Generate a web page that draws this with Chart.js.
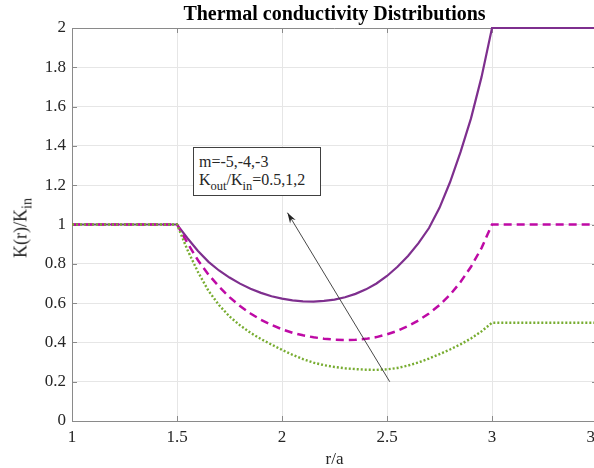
<!DOCTYPE html>
<html>
<head>
<meta charset="utf-8">
<script src="https://cdn.jsdelivr.net/npm/chart.js@4.4.1/dist/chart.umd.min.js"></script>
<style>
  html, body { margin: 0; padding: 0; overflow: hidden; background: #fff; }
  #wrap { position: relative; width: 620px; height: 468px; }
  #ylab, #note { position: absolute; font-family: "Liberation Serif", serif; color: #262626; white-space: nowrap; }
  #ylab { font-size: 18px; left: 21px; top: 228px; transform: translate(-50%, -50%) rotate(-90deg); }
  #note { font-size: 16px; line-height: 18px; background: #fff; border: 1px solid #404040;
          padding: 5px 5px 4px 5px; box-sizing: border-box; width: 128px; height: 49px; }
  sub { font-size: 0.78em; vertical-align: -0.38em; line-height: 0; }
</style>
</head>
<body>
<div id="wrap">
  <canvas id="kChart" width="620" height="468"></canvas>
  <div id="ylab">K(r)/K<sub>in</sub></div>
  <div id="note">m=-5,-4,-3<br>K<sub>out</sub>/K<sub>in</sub>=0.5,1,2</div>
</div>
<script>
// r/a sample positions
const rVals = [1, 1.5, 1.55, 1.6, 1.65, 1.7, 1.75, 1.8, 1.85, 1.9, 1.95,
               2, 2.05, 2.1, 2.15, 2.2, 2.25, 2.3, 2.35, 2.4, 2.45,
               2.5, 2.55, 2.6, 2.65, 2.7, 2.75, 2.8, 2.85, 2.9, 2.95, 3, 3.5];

// K(r)/Kin
const kSolid = [1, 1, 0.93, 0.865, 0.81, 0.766, 0.73, 0.699, 0.673, 0.652, 0.635,
                0.623, 0.614, 0.609, 0.608, 0.611, 0.618, 0.63, 0.647, 0.67, 0.7,
                0.738, 0.785, 0.84, 0.905, 0.982, 1.085, 1.215, 1.368, 1.54, 1.75, 2, 2];
const kDashed = [1, 1, 0.905, 0.818, 0.745, 0.684, 0.63, 0.585, 0.547, 0.515, 0.489,
                 0.467, 0.449, 0.436, 0.426, 0.419, 0.414, 0.412, 0.413, 0.418, 0.427,
                 0.441, 0.459, 0.483, 0.512, 0.547, 0.59, 0.642, 0.707, 0.785, 0.88, 1, 1];
const kDotted = [1, 1, 0.87, 0.758, 0.662, 0.59, 0.532, 0.487, 0.449, 0.417, 0.389,
                 0.362, 0.337, 0.315, 0.297, 0.284, 0.275, 0.268, 0.264, 0.261, 0.26,
                 0.263, 0.27, 0.282, 0.298, 0.318, 0.34, 0.364, 0.39, 0.42, 0.456, 0.5, 0.5];

const xTicks = [1, 1.5, 2, 2.5, 3, 3.5];
const yTicks = [0, 0.2, 0.4, 0.6, 0.8, 1, 1.2, 1.4, 1.6, 1.8, 2];

// annotation anchors in data units
const noteAt = { r: 1.576, k: 1.393 };
const arrowFrom = { r: 2.513, k: 0.2 };
const arrowTo = { r: 2.026, k: 1.06 };

const serif = 'Liberation Serif';
const axisGray = '#8a8a8a';

function points(ys) {
    return rVals.map((r, i) => ({ x: r, y: ys[i] }));
}

const framePlugin = {
    id: 'frame',
    beforeDatasetsDraw(chart) {
        const { ctx, chartArea: a, scales: { x, y } } = chart;
        ctx.save();
        ctx.strokeStyle = axisGray;
        ctx.lineWidth = 1;
        ctx.beginPath();
        ctx.moveTo(a.left, a.top + 0.5);
        ctx.lineTo(a.right, a.top + 0.5);
        ctx.moveTo(a.right - 0.5, a.top);
        ctx.lineTo(a.right - 0.5, a.bottom);
        // inward tick marks like the original
        x.ticks.forEach(t => {
            const px = Math.round(x.getPixelForValue(t.value)) + 0.5;
            ctx.moveTo(px, a.bottom); ctx.lineTo(px, a.bottom - 5);
            ctx.moveTo(px, a.top); ctx.lineTo(px, a.top + 5);
        });
        y.ticks.forEach(t => {
            const py = Math.round(y.getPixelForValue(t.value)) + 0.5;
            ctx.moveTo(a.left, py); ctx.lineTo(a.left + 5, py);
            ctx.moveTo(a.right, py); ctx.lineTo(a.right - 5, py);
        });
        ctx.stroke();
        ctx.restore();
    },
    afterDatasetsDraw(chart) {
        const { ctx, scales: { x, y } } = chart;
        const x0 = x.getPixelForValue(arrowFrom.r), y0 = y.getPixelForValue(arrowFrom.k);
        const x1 = x.getPixelForValue(arrowTo.r), y1 = y.getPixelForValue(arrowTo.k);
        const ang = Math.atan2(y1 - y0, x1 - x0);
        ctx.save();
        ctx.strokeStyle = '#333';
        ctx.fillStyle = '#222';
        ctx.lineWidth = 0.9;
        ctx.beginPath();
        ctx.moveTo(x0, y0);
        ctx.lineTo(x1, y1);
        ctx.stroke();
        ctx.beginPath();
        ctx.moveTo(x1, y1);
        ctx.lineTo(x1 - 11 * Math.cos(ang - 0.3), y1 - 11 * Math.sin(ang - 0.3));
        ctx.lineTo(x1 - 7 * Math.cos(ang), y1 - 7 * Math.sin(ang));
        ctx.lineTo(x1 - 11 * Math.cos(ang + 0.3), y1 - 11 * Math.sin(ang + 0.3));
        ctx.closePath();
        ctx.fill();
        ctx.restore();
    }
};

const tickFont = { family: serif, size: 17 };

const chart = new Chart(document.getElementById('kChart'), {
    type: 'line',
    data: {
        datasets: [
            { data: points(kSolid), borderColor: '#7E2F8E', borderWidth: 2.2, order: 3 },
            { data: points(kDashed), borderColor: '#BE0AA5', borderWidth: 2.5, borderDash: [8, 5], order: 2 },
            { data: points(kDotted), borderColor: '#77AC30', borderWidth: 2.4, borderDash: [2, 2], order: 1 }
        ].map(ds => Object.assign(ds, { pointRadius: 0, tension: 0, fill: false, clip: false }))
    },
    options: {
        responsive: false,
        animation: false,
        devicePixelRatio: 1,
        layout: { padding: { left: 0, right: 23, top: 0, bottom: 0 } },
        plugins: {
            legend: { display: false },
            tooltip: { enabled: false },
            title: {
                display: true,
                text: 'Thermal conductivity Distributions',
                fullSize: false,
                color: '#000',
                font: { family: serif, size: 20, weight: 'bold' },
                padding: { top: 3, bottom: 1 }
            }
        },
        scales: {
            x: {
                type: 'linear',
                min: 1,
                max: 3.5,
                afterBuildTicks: s => { s.ticks = xTicks.map(v => ({ value: v })); },
                ticks: { font: tickFont, color: '#262626', padding: 6, maxRotation: 0, autoSkip: false,
                         callback: v => String(v) },
                grid: { color: '#e6e6e6', drawTicks: false },
                border: { color: axisGray },
                title: { display: true, text: 'r/a', color: '#262626',
                         font: { family: serif, size: 17, lineHeight: 0.95 }, padding: { top: 0, bottom: 0 } },
                afterFit: s => { s.height = 47; }
            },
            y: {
                min: 0,
                max: 2,
                afterBuildTicks: s => { s.ticks = yTicks.map(v => ({ value: v })); },
                ticks: { font: tickFont, color: '#262626', padding: 6, callback: v => String(v) },
                grid: { color: '#e6e6e6', drawTicks: false },
                border: { color: axisGray },
                afterFit: s => { s.width = 72; }
            }
        }
    },
    plugins: [framePlugin]
});

// place the text box through the scales
const note = document.getElementById('note');
note.style.left = chart.scales.x.getPixelForValue(noteAt.r) + 'px';
note.style.top = chart.scales.y.getPixelForValue(noteAt.k) + 'px';
</script>
</body>
</html>
